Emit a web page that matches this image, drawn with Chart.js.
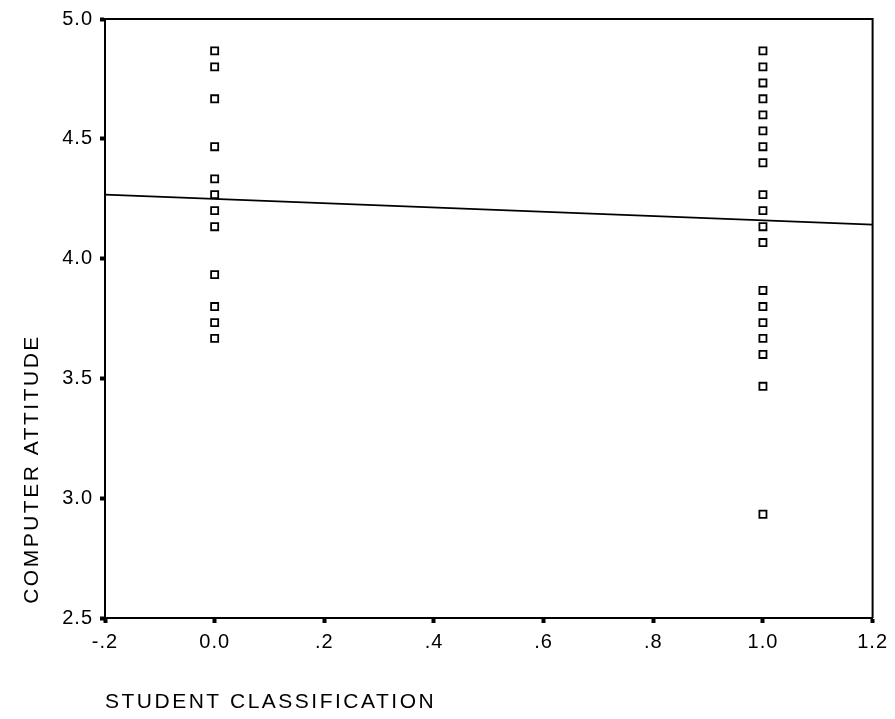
<!DOCTYPE html>
<html>
<head>
<meta charset="utf-8">
<style>
  html, body { margin: 0; padding: 0; background: #fff; }
  #wrap { width: 895px; height: 719px; }
</style>
<script src="https://cdn.jsdelivr.net/npm/chart.js@4/dist/chart.umd.min.js"></script>
</head>
<body>
<div id="wrap"><canvas id="c" width="895" height="719"></canvas></div>
<script>
// ---- data ----
const groupX = [0, 1];
const group0Values = [4.867, 4.8, 4.667, 4.467, 4.333, 4.267, 4.2, 4.133, 3.933, 3.8, 3.733, 3.667];
const group1Values = [4.867, 4.8, 4.733, 4.667, 4.6, 4.533, 4.467, 4.4, 4.267, 4.2, 4.133, 4.067,
                      3.867, 3.8, 3.733, 3.667, 3.6, 3.467, 2.933];
const fitX = [-0.2, 1.2];
const fitY = [4.267, 4.142];
const xTickValues = [-0.2, 0, 0.2, 0.4, 0.6, 0.8, 1.0, 1.2];
const xTickLabels = ['-.2', '0.0', '.2', '.4', '.6', '.8', '1.0', '1.2'];
const yTickValues = [2.5, 3.0, 3.5, 4.0, 4.5, 5.0];
const yTickLabels = ['2.5', '3.0', '3.5', '4.0', '4.5', '5.0'];
const xTitle = 'STUDENT CLASSIFICATION';
const yTitle = 'COMPUTER ATTITUDE';

const scatterPoints = [
  ...group0Values.map(v => ({ x: groupX[0], y: v })),
  ...group1Values.map(v => ({ x: groupX[1], y: v }))
];
const fitPoints = fitX.map((x, i) => ({ x: x, y: fitY[i] }));

const FONT = '"Liberation Sans", Arial, sans-serif';

const spacingPlugin = {
  id: 'spacing',
  beforeLayout(chart) { chart.ctx.letterSpacing = '1px'; },
  beforeDraw(chart) { chart.ctx.letterSpacing = '1px'; }
};

const framePlugin = {
  id: 'frame',
  afterDatasetsDraw(chart) {
    const { ctx, chartArea: a } = chart;
    ctx.save();
    ctx.strokeStyle = '#000';
    ctx.lineWidth = 2;
    ctx.beginPath();
    ctx.moveTo(a.left, a.top);
    ctx.lineTo(a.right, a.top);
    ctx.lineTo(a.right, a.bottom);
    ctx.stroke();
    ctx.restore();
  },
  afterDraw(chart) {
    const { ctx, chartArea: a } = chart;
    ctx.save();
    ctx.fillStyle = '#000';
    ctx.font = '21px ' + FONT;
    ctx.letterSpacing = '2.5px';
    // x title
    ctx.textAlign = 'left';
    ctx.textBaseline = 'alphabetic';
    ctx.fillText(xTitle, a.left, a.bottom + 90);
    // y title
    ctx.translate(38, a.bottom - 149);
    ctx.rotate(-Math.PI / 2);
    ctx.textAlign = 'center';
    ctx.fillText(yTitle, 0, 0);
    ctx.restore();
  }
};

new Chart(document.getElementById('c'), {
  type: 'scatter',
  data: {
    datasets: [
      {
        label: 'points',
        data: scatterPoints,
        pointStyle: 'rect',
        pointRadius: 5,
        pointHoverRadius: 5,
        borderColor: '#000',
        backgroundColor: '#fff',
        borderWidth: 1.8
      },
      {
        type: 'line',
        label: 'fit',
        data: fitPoints,
        borderColor: '#000',
        borderWidth: 1.7,
        pointRadius: 0,
        fill: false
      }
    ]
  },
  options: {
    responsive: false,
    animation: false,
    events: [],
    layout: { padding: { top: 18, right: 15, left: 0, bottom: 0 } },
    plugins: {
      legend: { display: false },
      tooltip: { enabled: false },
      title: { display: false }
    },
    scales: {
      x: {
        type: 'linear',
        min: -0.2,
        max: 1.2,
        afterBuildTicks(scale) { scale.ticks = xTickValues.map(v => ({ value: v })); },
        afterFit(scale) { scale.height = 101; },
        ticks: {
          color: '#000',
          font: { family: FONT, size: 20 },
          padding: 7,
          maxRotation: 0,
          autoSkip: false,
          callback(value) {
            const i = xTickValues.findIndex(v => Math.abs(v - value) < 1e-9);
            return i >= 0 ? xTickLabels[i] : '';
          }
        },
        grid: {
          drawOnChartArea: false,
          drawTicks: true,
          tickLength: 5,
          tickWidth: 4,
          tickColor: '#000'
        },
        border: { color: '#000', width: 2 }
      },
      y: {
        type: 'linear',
        min: 2.5,
        max: 5.0,
        afterBuildTicks(scale) { scale.ticks = yTickValues.map(v => ({ value: v })); },
        afterFit(scale) { scale.width = 105; },
        ticks: {
          color: '#000',
          font: { family: FONT, size: 20 },
          padding: 7,
          autoSkip: false,
          callback(value) {
            const i = yTickValues.findIndex(v => Math.abs(v - value) < 1e-9);
            return i >= 0 ? yTickLabels[i] : '';
          }
        },
        grid: {
          drawOnChartArea: false,
          drawTicks: true,
          tickLength: 5,
          tickWidth: 4,
          tickColor: '#000'
        },
        border: { color: '#000', width: 2 }
      }
    }
  },
  plugins: [spacingPlugin, framePlugin]
});
</script>
</body>
</html>
